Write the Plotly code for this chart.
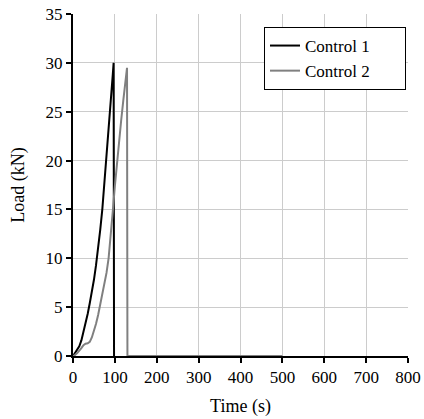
import plotly.graph_objects as go

# Control 1 (time in s, load in kN)
t1 = [0, 5, 10, 15, 20, 25, 30, 35, 40, 45, 50, 55, 60, 65, 70, 75, 80, 85, 90, 95, 97, 98]
load1 = [0, 0.3, 0.6, 1.0, 1.6, 2.4, 3.3, 4.3, 5.4, 6.5, 7.8, 9.3, 11.0, 12.9, 15.0,
         17.6, 20.4, 23.2, 26.0, 28.8, 30.0, 0]

# Control 2
t2 = [0, 5, 10, 15, 20, 25, 30, 35, 40, 45, 50, 55, 60, 65, 70, 75, 80, 85, 90, 95,
      100, 105, 110, 115, 120, 125, 129, 130, 200, 300, 400, 500]
load2 = [0, 0.1, 0.3, 0.5, 0.8, 1.1, 1.25, 1.3, 1.45, 1.9, 2.5, 3.3, 4.2, 5.3, 6.2, 7.2,
         8.5, 10.0, 12.2, 14.8, 17.4, 19.8, 22.0, 24.1, 26.1, 28.1, 29.5, 0, 0, 0, 0, 0]

series_names = ["Control 1", "Control 2"]
x_ticks = [0, 100, 200, 300, 400, 500, 600, 700, 800]
y_ticks = [0, 5, 10, 15, 20, 25, 30, 35]

FONT = "Liberation Serif"
F = dict(family=FONT, size=17, color="black")
FT = dict(family=FONT, size=18, color="black")
PAD = "\u00a0" * 7  # right padding inside the legend box

fig = go.Figure()
fig.add_trace(go.Scatter(x=t1, y=load1, mode="lines", name=series_names[0] + PAD,
                         line=dict(color="#000000", width=2)))
fig.add_trace(go.Scatter(x=t2, y=load2, mode="lines", name=series_names[1] + PAD,
                         line=dict(color="#808080", width=2)))

fig.update_layout(
    template="none",
    width=424, height=419,
    margin=dict(l=73, r=16, t=14, b=63),
    paper_bgcolor="white", plot_bgcolor="white",
    font=F,
    showlegend=True,
    legend=dict(x=0.994, y=0.962, xanchor="right", yanchor="top",
                bgcolor="white", bordercolor="black", borderwidth=1,
                itemwidth=30,
                font=dict(family=FONT, size=17, color="black")),
)
fig.update_xaxes(range=[0, 800], tickvals=x_ticks, ticktext=[str(v) for v in x_ticks],
                 tickfont=F, automargin=False,
                 showgrid=True, gridcolor="#cccccc", gridwidth=1,
                 showline=True, linecolor="black", linewidth=2,
                 ticks="outside", ticklen=5, tickwidth=1.5, tickcolor="black",
                 zeroline=False,
                 title=dict(text="Time (s)", standoff=13, font=FT))
fig.update_yaxes(range=[0, 35], tickvals=y_ticks, ticktext=[str(v) for v in y_ticks],
                 tickfont=F, automargin=False,
                 showgrid=True, gridcolor="#cccccc", gridwidth=1,
                 showline=True, linecolor="black", linewidth=2,
                 ticks="outside", ticklen=5, tickwidth=1.5, tickcolor="black",
                 zeroline=False,
                 title=dict(text="Load (kN)", standoff=16, font=FT))

fig.write_html("out.html")
